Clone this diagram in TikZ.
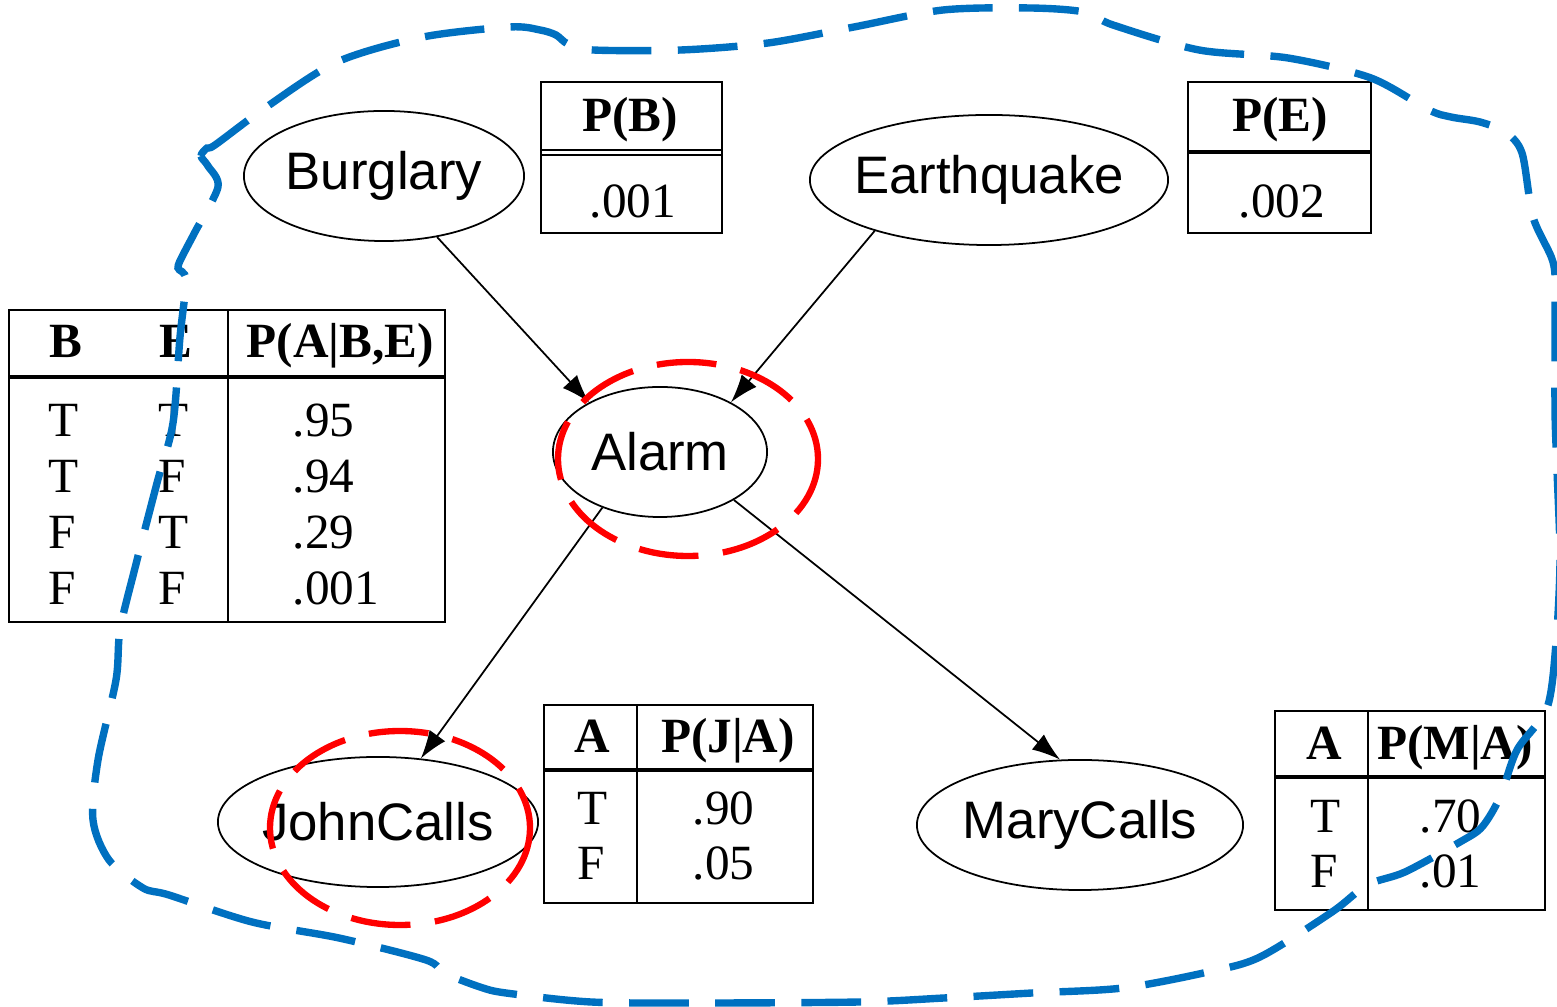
\documentclass[tikz,border=0pt]{standalone}
\usepackage{fontspec}
\setmainfont{Liberation Serif}
\setsansfont{Liberation Sans}
\usetikzlibrary{shapes.geometric,arrows.meta}

\definecolor{hiblue}{HTML}{0070C0}
\definecolor{hired}{HTML}{FF0000}

\tikzset{
  varnode/.style={ellipse,draw,line width=0.5pt,inner sep=0pt,minimum height=1.3cm,
    font=\sffamily\fontsize{15pt}{18pt}\selectfont},
  cpt/.style={draw,line width=0.6pt},
  sepline/.style={line width=1.4pt},
  cell/.style={anchor=base west,inner sep=0pt,font=\fontsize{14pt}{16pt}\selectfont},
  head/.style={anchor=base west,inner sep=0pt,font=\bfseries\fontsize{14pt}{16pt}\selectfont},
  link/.style={-{Latex[length=8pt,width=5.5pt]},line width=0.5pt},
  query/.style={draw=hired,line width=1.8pt,dash pattern=on 17pt off 7pt},
  blanket/.style={draw=hiblue,line width=2.1pt,dash pattern=on 17pt off 7.5pt}
}

\begin{document}
\begin{tikzpicture}[x=0.01cm,y=-0.01cm]
  \useasboundingbox (0,0) rectangle (1557,1007);

  % variables
  \node[varnode,minimum width=2.8cm] (burglary) at (384,176) {\makebox[0pt]{Burglary}};
  \node[varnode,minimum width=3.58cm] (earthquake) at (989,180) {\makebox[0pt]{Earthquake}};
  \node[varnode,minimum width=2.14cm] (alarm) at (660,452) {\makebox[0pt]{Alarm}};
  \node[varnode,minimum width=3.2cm] (johncalls) at (378,822) {\makebox[0pt]{JohnCalls}};
  \node[varnode,minimum width=3.26cm] (marycalls) at (1080,825) {\makebox[0pt]{MaryCalls}};

  \draw[link] (burglary.-49) -- (alarm.145);
  \draw[link] (earthquake.204) -- (alarm.35);
  \draw[link] (alarm.224) -- (johncalls.56);
  \draw[link] (alarm.-33) -- (marycalls.107);

  % P(B)
  \draw[cpt] (541,82) rectangle (722,233);
  \draw[line width=0.5pt] (541,150) -- (722,150) (541,155) -- (722,155);
  \node[head,anchor=base] (pb-h) at (630,132) {P(B)};
  \node[cell,anchor=base] (pb-v) at (633,218) {.001};

  % P(E)
  \draw[cpt] (1188,82) rectangle (1371,233);
  \draw[sepline] (1188,152) -- (1371,152);
  \node[head,anchor=base] (pe-h) at (1280,132) {P(E)};
  \node[cell,anchor=base] (pe-v) at (1282,218) {.002};

  % P(A|B,E)
  \draw[cpt] (9,310) rectangle (445,622);
  \draw[cpt] (228,310) -- (228,622);
  \draw[sepline] (9,377) -- (445,377);
  \node[head] (pa-b) at (49,358) {B};
  \node[head] (pa-e) at (159,358) {E};
  \node[head] (pa-p) at (246,358) {P(A|B,E)};
  \foreach \b/\e/\p [count=\r] in {T/T/.95,T/F/.94,F/T/.29,F/F/.001} {
    \node[cell] (pa-b\r) at (48,381+56*\r) {\b};
    \node[cell] (pa-e\r) at (158,381+56*\r) {\e};
    \node[cell] (pa-p\r) at (292,381+56*\r) {\p};
  }

  % P(J|A)
  \draw[cpt] (544,705) rectangle (813,903);
  \draw[cpt] (637,705) -- (637,903);
  \draw[sepline] (544,770) -- (813,770);
  \node[head,anchor=base] (pj-a) at (592,753) {A};
  \node[head,anchor=base] (pj-p) at (728,753) {P(J|A)};
  \node[cell] (pj-t) at (577,825) {T};
  \node[cell] (pj-tv) at (692,825) {.90};
  \node[cell] (pj-f) at (577,880) {F};
  \node[cell] (pj-fv) at (692,880) {.05};

  % P(M|A)
  \draw[cpt] (1275,711) rectangle (1545,910);
  \draw[cpt] (1368,711) -- (1368,910);
  \draw[sepline] (1275,777) -- (1545,777);
  \node[head,anchor=base] (pm-a) at (1324,760) {A};
  \node[head,anchor=base] (pm-p) at (1455,760) {P(M|A)};
  \node[cell] (pm-t) at (1310,833) {T};
  \node[cell] (pm-tv) at (1419,833) {.70};
  \node[cell] (pm-f) at (1310,888) {F};
  \node[cell] (pm-fv) at (1419,888) {.01};

  % query and blanket
  \draw[query] (688,459) ellipse [x radius=130,y radius=97];
  \draw[query] (400,828) ellipse [x radius=130,y radius=97];
  \draw[blanket] plot[smooth cycle,tension=0.5] coordinates {
    (208,166) (201,156) (207,148) (215,145) (265,108) (337,62) (423,37) (510,27)
    (540,30) (556,35) (568,44) (593,50) (681,50) (768,43) (854,27) (943,10)
    (1030,8) (1084,12) (1113,25) (1199,50) (1288,58) (1371,78) (1429,110)
    (1451,117) (1480,122) (1505,132) (1522,153) (1533,217) (1553,262) (1555,300)
    (1555,410) (1557,470) (1560,560) (1556,643) (1547,708) (1517,750) (1500,797)
    (1482,827) (1460,842) (1405,872) (1367,885) (1332,912) (1260,957) (1208,972)
    (1123,988) (1032,993) (944,998) (859,1002) (700,1003) (591,1002) (506,993)
    (480,987) (444,973) (426,960) (339,938) (252,922) (169,895) (143,888)
    (109,860) (93,820) (98,760) (116,680) (120,630) (135,568) (157,483)
    (173,423) (180,337) (186,280) (178,268) (183,255) (195,232) (218,187)};
\end{tikzpicture}
\end{document}
